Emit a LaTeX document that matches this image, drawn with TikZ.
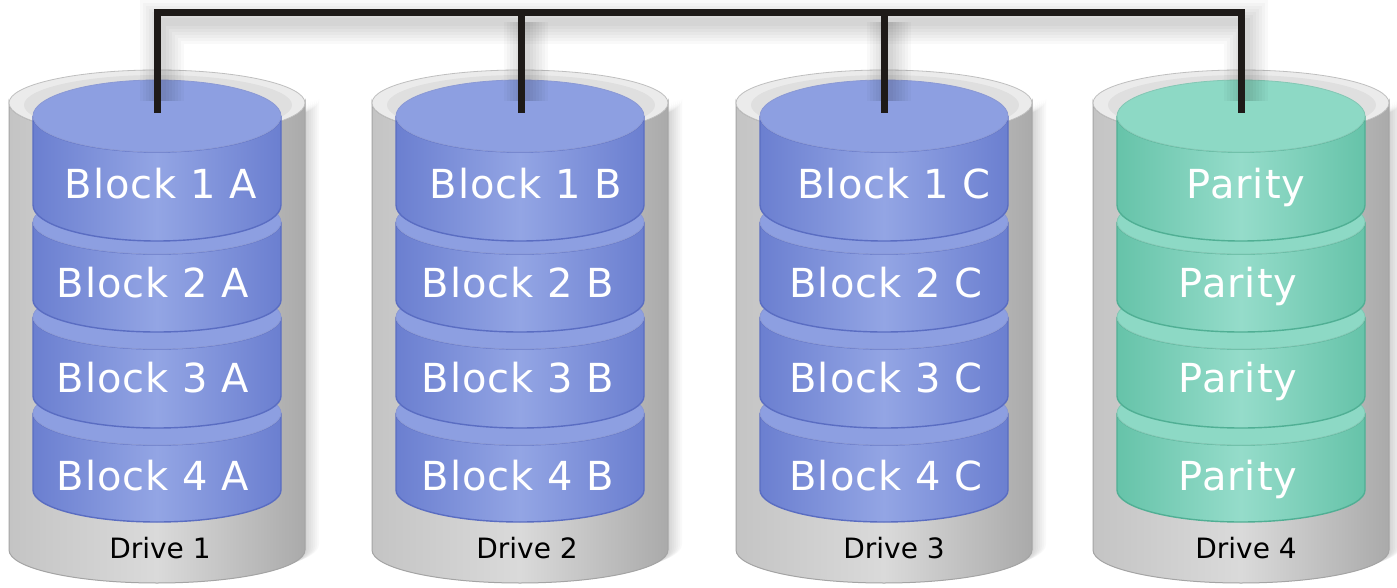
\documentclass[tikz,border=0pt]{standalone}
\usepackage{fontspec}
\setmainfont{DejaVu Sans}
\newfontfamily\blockfont[LetterSpace=2.5]{DejaVu Sans}
\definecolor{gEdgeL}{HTML}{C4C4C4}
\definecolor{gEdgeR}{HTML}{AAAAAA}
\definecolor{gMid}{HTML}{DADADA}
\definecolor{gLine}{HTML}{A4A4A4}
\definecolor{gTop}{HTML}{EBEBEB}
\definecolor{bEdge}{HTML}{6B7FD0}
\definecolor{bMid}{HTML}{93A5E4}
\definecolor{bTop}{HTML}{8D9FE1}
\definecolor{bLine}{HTML}{5A6DC2}
\definecolor{tEdge}{HTML}{66C3A9}
\definecolor{tMid}{HTML}{95DCCA}
\definecolor{tTop}{HTML}{8DD9C5}
\definecolor{tLine}{HTML}{50AF94}
\definecolor{busC}{HTML}{1E1A18}
\newcommand{\cylside}[6]{\path[#6] ({#1-#4},{-#2}) -- ({#1-#4},{-#3}) arc[start angle=180,end angle=360,x radius={#4*0.5pt},y radius={#5*0.5pt}] -- ({#1+#4},{-#2}) arc[start angle=0,end angle=-180,x radius={#4*0.5pt},y radius={#5*0.5pt}] -- cycle;}
\newcommand{\cyltop}[5]{\path[#5] (#1,{-#2}) ellipse[x radius={#3*0.5pt},y radius={#4*0.5pt}];}
\tikzset{
  gside/.style={left color=gEdgeL, right color=gEdgeR, middle color=gMid, draw=gLine, line width=0.5pt},
  gtop/.style={fill=gTop, draw=gLine!70, line width=0.4pt},
  bside/.style={left color=bEdge, right color=bEdge, middle color=bMid, draw=bLine, line width=0.7pt},
  btop/.style={fill=bTop, draw=bLine!70, line width=0.4pt},
  tside/.style={left color=tEdge, right color=tEdge, middle color=tMid, draw=tLine, line width=0.7pt},
  ttop/.style={fill=tTop, draw=tLine!70, line width=0.4pt},
  blocklbl/.style={text=white, font=\blockfont\fontsize{20}{24}\selectfont, anchor=base, inner sep=0pt},
  drivelbl/.style={text=black, font=\fontsize{14}{17}\selectfont, anchor=base, inner sep=0pt},
  bus/.style={draw=busC, line width=3.5pt, line join=miter},
  busshadow/.style={draw=black, opacity=0.025}
}
\begin{document}
\begin{tikzpicture}[x=0.5pt,y=0.5pt]
\useasboundingbox (0,0) rectangle (1397,-588);
\fill[white] (0,0) rectangle (1397,-588);
% drives
\foreach \cx/\k in {157/b,520/b,884/b,1241/t}{
  \foreach \s in {2,4,...,14}{
    \cylside{\cx+\s}{103+\s*0.3}{550+\s*0.4}{148}{33}{fill=black, opacity=0.025}
  }
  \cylside{\cx}{103}{550}{148}{33}{gside}
  \cyltop{\cx}{103}{148}{33}{gtop}
  \cyltop{\cx+1}{105}{134}{30}{fill=black, opacity=0.05}
  \foreach \T/\B/\r in {413/490/32,317/396/32,222/300/32,116/205/36}{
    \cylside{\cx}{\T}{\B}{124}{\r}{\k side}
    \cyltop{\cx}{\T}{124}{\r}{\k top}
  }
}
% bus
\coordinate (d1top) at (157,-113);
\coordinate (d2top) at (521,-113);
\coordinate (d3top) at (884,-113);
\coordinate (d4top) at (1241,-113);
\coordinate (d1bus) at (157,-13);
\coordinate (d2bus) at (521,-13);
\coordinate (d3bus) at (884,-13);
\coordinate (d4bus) at (1241,-13);
\foreach \o in {4,7,10,13,16,19,22}{
  \path[busshadow, line width={\o*1pt}] ([shift={(5,12)}]d1top) -- ([shift={(5,-9)}]d1bus) -- ([shift={(5,-9)}]d4bus) -- ([shift={(5,12)}]d4top);
  \path[busshadow, line width={\o*1pt}] ([shift={(5,-9)}]d2bus) -- ([shift={(5,12)}]d2top);
  \path[busshadow, line width={\o*1pt}] ([shift={(5,-9)}]d3bus) -- ([shift={(5,12)}]d3top);
}
\draw[bus] (d1top) -- (d1bus) -- (d4bus) -- (d4top);
\draw[bus] (d2bus) -- (d2top);
\draw[bus] (d3bus) -- (d3top);
% labels
\node[blocklbl] (a1) at (161,-199) {Block 1 A};
\node[blocklbl] (a2) at (153,-298) {Block 2 A};
\node[blocklbl] (a3) at (153,-392) {Block 3 A};
\node[blocklbl] (a4) at (153,-490) {Block 4 A};
\node[blocklbl] (b1) at (526,-199) {Block 1 B};
\node[blocklbl] (b2) at (518,-298) {Block 2 B};
\node[blocklbl] (b3) at (518,-392) {Block 3 B};
\node[blocklbl] (b4) at (518,-490) {Block 4 B};
\node[blocklbl] (c1) at (894,-199) {Block 1 C};
\node[blocklbl] (c2) at (886,-298) {Block 2 C};
\node[blocklbl] (c3) at (886,-392) {Block 3 C};
\node[blocklbl] (c4) at (886,-490) {Block 4 C};
\node[blocklbl] (p1) at (1246,-199) {Parity};
\node[blocklbl] (p2) at (1238,-298) {Parity};
\node[blocklbl] (p3) at (1238,-392) {Parity};
\node[blocklbl] (p4) at (1238,-490) {Parity};
\node[drivelbl] (drv1) at (160,-558) {Drive 1};
\node[drivelbl] (drv2) at (527,-558) {Drive 2};
\node[drivelbl] (drv3) at (894,-558) {Drive 3};
\node[drivelbl] (drv4) at (1246,-558) {Drive 4};
\end{tikzpicture}
\end{document}
